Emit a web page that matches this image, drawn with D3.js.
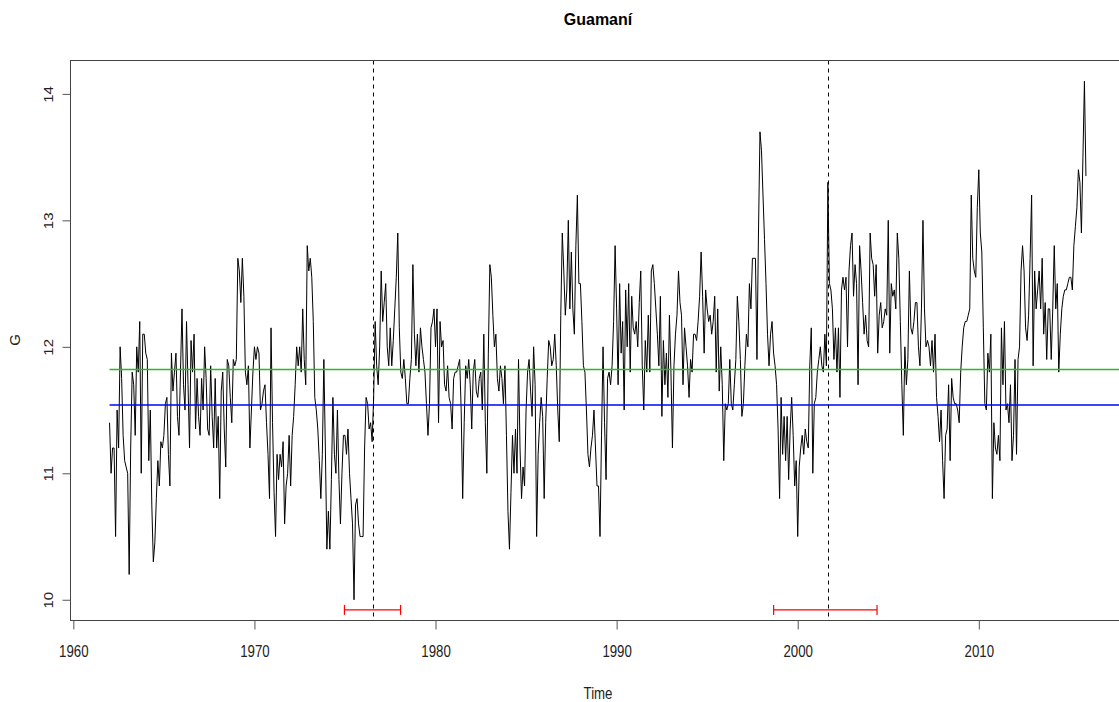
<!DOCTYPE html>
<html>
<head>
    <meta charset="utf-8">
    <style>
        body { margin: 0; background: #fff; }
        text { font-family: "Liberation Sans", Arial, sans-serif; fill: #222; }
    </style>
</head>
<body>
    <div id="graph"></div>
    <script src="https://cdn.jsdelivr.net/npm/d3@7"></script>

    <script>
        // Serie mensual, empieza en enero de 1962 (una fila por año)
        const START_YEAR = 1962;
        const G = [
            11.4, 11.0, 11.2, 11.2, 10.5, 11.5, 11.2, 12.0, 11.75, 11.3, 11.1, 11.05,
            11.0, 10.2, 11.2, 11.8, 11.7, 11.3, 12.0, 11.8, 12.2, 11.0, 12.1, 12.1,
            11.95, 11.9, 11.1, 11.5, 10.75, 10.3, 10.45, 10.8, 11.1, 10.9, 11.25, 11.2,
            11.3, 11.55, 11.6, 11.15, 10.9, 11.95, 11.65, 11.8, 11.95, 11.45, 11.3, 11.8,
            12.3, 11.7, 11.5, 12.2, 11.7, 11.2, 12.05, 11.8, 12.1, 11.35, 11.75, 11.45,
            11.3, 11.75, 11.5, 12.0, 11.75, 11.35, 11.3, 11.85, 11.45, 11.2, 11.75, 11.2,
            11.45, 10.8, 11.65, 11.8, 11.35, 11.05, 11.9, 11.85, 11.6, 11.4, 11.9, 11.85,
            11.9, 12.7, 12.6, 12.35, 12.7, 12.4, 11.8, 11.7, 11.85, 11.2, 11.5, 11.8,
            12.0, 11.9, 12.0, 11.95, 11.5, 11.55, 11.65, 11.7, 11.4, 11.15, 10.8, 12.15,
            11.4, 10.85, 10.5, 11.15, 10.95, 11.15, 11.05, 11.25, 10.6, 10.9, 11.0, 11.3,
            10.9, 11.3, 11.45, 11.7, 12.0, 11.85, 12.0, 11.8, 12.3, 11.9, 11.7, 12.8,
            12.6, 12.7, 12.55, 12.2, 11.6, 11.5, 11.35, 11.1, 10.8, 11.15, 11.9, 11.2,
            10.4, 10.7, 10.4, 10.95, 11.6, 11.15, 11.0, 11.5, 10.95, 10.6, 11.0, 11.3,
            11.3, 11.15, 11.35, 11.0, 10.8, 10.6, 10.0, 10.75, 10.8, 10.6, 10.5, 10.5,
            10.5, 11.2, 11.6, 11.55, 11.35, 11.4, 11.25, 11.6, 12.2, 11.85, 11.7, 12.0,
            12.6, 12.2, 12.35, 12.5, 12.0, 11.85, 12.15, 11.85, 12.05, 12.3, 12.55, 12.9,
            12.15, 11.8, 11.75, 11.9, 11.75, 11.55, 11.55, 11.75, 11.9, 12.65, 12.1, 11.85,
            12.1, 11.8, 12.15, 12.0, 11.9, 11.8, 11.55, 11.3, 11.55, 12.15, 12.2, 12.3,
            12.0, 12.3, 11.4, 12.2, 12.0, 12.05, 11.7, 11.65, 11.85, 11.6, 11.55, 11.35,
            11.75, 11.8, 11.8, 11.85, 11.9, 11.5, 10.8, 11.4, 11.85, 11.75, 11.9, 11.7,
            11.35, 11.8, 11.9, 11.65, 11.6, 11.75, 11.8, 11.5, 12.1, 11.4, 11.0, 11.95,
            12.65, 12.55, 12.25, 12.0, 12.1, 11.75, 11.65, 11.85, 11.75, 11.55, 11.85, 11.3,
            10.7, 10.4, 10.85, 11.3, 11.0, 11.35, 11.0, 11.9, 11.2, 10.8, 11.05, 10.9,
            11.5, 11.8, 11.9, 11.65, 11.45, 12.0, 11.7, 10.5, 11.15, 11.4, 11.6, 11.45,
            10.8, 11.4, 11.75, 12.05, 12.0, 11.85, 11.9, 12.1, 11.85, 11.5, 11.25, 12.25,
            12.9, 12.6, 12.25, 12.45, 13.0, 12.3, 12.75, 12.3, 12.1, 12.8, 13.2, 12.5,
            12.5, 12.2, 11.85, 11.8, 11.5, 11.15, 11.05, 11.2, 11.3, 11.5, 11.2, 10.9,
            10.9, 10.5, 11.3, 12.0, 11.4, 10.95, 11.75, 11.8, 11.7, 11.85, 12.2, 12.8,
            12.3, 11.7, 12.5, 11.95, 12.2, 11.5, 12.45, 12.0, 12.5, 11.8, 12.4, 12.15,
            12.1, 12.2, 12.0, 12.35, 12.6, 11.85, 11.5, 12.05, 11.8, 12.25, 11.8, 12.6,
            12.65, 12.5, 12.3, 12.1, 11.85, 12.4, 11.45, 12.05, 11.7, 11.95, 11.6, 12.25,
            11.8, 11.2, 11.85, 12.1, 12.25, 12.6, 12.35, 12.25, 11.7, 12.15, 12.0, 11.85,
            11.6, 11.9, 11.8, 12.1, 12.1, 12.05, 12.2, 12.4, 12.75, 12.4, 11.95, 12.45,
            12.3, 12.2, 12.25, 12.1, 12.2, 12.4, 11.8, 12.3, 11.65, 12.0, 11.7, 11.1,
            11.55, 11.5, 11.55, 11.9, 11.55, 11.5, 11.7, 11.9, 12.4, 12.2, 11.9, 11.45,
            11.55, 11.85, 12.1, 12.0, 12.5, 12.3, 12.7, 12.7, 12.7, 11.9, 12.9, 13.7,
            13.55, 13.2, 12.85, 12.5, 12.1, 11.85, 12.1, 12.2, 11.95, 11.85, 11.7, 11.35,
            10.8, 11.6, 11.15, 11.45, 11.1, 11.45, 10.95, 11.35, 11.6, 11.3, 10.9, 11.1,
            10.5, 11.05, 11.2, 11.3, 11.15, 11.35, 11.25, 11.2, 11.85, 12.15, 11.0, 11.55,
            11.6, 11.8, 11.9, 12.0, 11.85, 11.8, 12.1, 11.85, 13.3, 12.5, 12.45, 12.3,
            11.9, 12.15, 11.8, 12.15, 11.6, 12.45, 12.55, 12.45, 12.55, 12.0, 12.6, 12.8,
            12.9, 12.4, 12.65, 12.5, 11.7, 12.8, 12.6, 12.35, 12.1, 12.25, 12.05, 12.0,
            12.9, 12.7, 12.65, 12.4, 12.65, 11.95, 12.25, 12.35, 12.15, 12.2, 12.3, 12.25,
            13.0, 11.95, 12.5, 12.4, 12.45, 12.3, 12.9, 12.7, 12.2, 11.7, 11.3, 12.0,
            11.7, 11.9, 12.6, 12.15, 12.1, 12.2, 12.35, 12.35, 12.0, 11.85, 12.3, 13.0,
            12.3, 12.0, 12.05, 12.0, 11.85, 12.05, 11.8, 12.1, 11.6, 11.45, 11.25, 11.5,
            11.1, 10.8, 11.3, 11.35, 11.7, 11.1, 11.75, 11.6, 11.55, 11.55, 11.5, 11.4,
            11.8, 12.0, 12.15, 12.2, 12.2, 12.25, 12.3, 13.2, 12.7, 12.6, 12.55, 13.1,
            13.4, 12.9, 12.75, 12.15, 11.55, 11.5, 11.95, 11.8, 12.1, 10.8, 11.4, 11.2,
            11.15, 11.3, 11.1, 12.15, 11.7, 12.2, 11.5, 11.55, 11.4, 11.7, 11.1, 11.3,
            11.9, 11.15, 11.9, 12.0, 12.6, 12.8, 12.6, 12.15, 12.05, 12.25, 12.7, 13.2,
            11.85, 12.6, 12.3, 12.45, 12.6, 12.3, 12.7, 12.1, 12.35, 11.9, 12.3, 12.3,
            11.9, 12.3, 12.8, 12.3, 12.5, 11.8, 12.1, 12.3, 12.4, 12.45, 12.45, 12.5,
            12.55, 12.55, 12.45, 12.8, 12.95, 13.1, 13.4, 13.3, 12.9, 13.5, 14.1, 13.35
        ];

        // Niveles horizontales (verde y azul)
        const LEVELS = [11.82, 11.54];
        // Fechas de quiebre e intervalos de confianza
        const BREAKS = [1976.57, 2001.69];
        const BREAK_CI = [[1974.97, 1978.07], [1998.67, 2004.38]];
        const CI_LEVEL = 9.92;

        const X_TICKS = [1960, 1970, 1980, 1990, 2000, 2010];
        const Y_TICKS = [10, 11, 12, 13, 14];

        const WIDTH = 1119;
        const HEIGHT = 702;
        const LEFT = 70.5, RIGHT = 1125, TOP = 60.5, BOTTOM = 620.5;
        const LEVEL_COLORS = ["#22bb22", "#0000ff"];

        const data = G.map((v, i) => ({ t: START_YEAR + i / 12, v: v }));
        const tEnd = data[data.length - 1].t;

        // Escalas con la extensión del 4% que usa R
        const tPad = (tEnd - START_YEAR) * 0.04;
        const xScale = d3.scaleLinear()
            .domain([START_YEAR - tPad, tEnd + tPad])
            .range([LEFT, RIGHT]);

        const vMin = d3.min(G), vMax = d3.max(G);
        const vPad = (vMax - vMin) * 0.04;
        const yScale = d3.scaleLinear()
            .domain([vMin - vPad, vMax + vPad])
            .range([BOTTOM, TOP]);

        const svg = d3.select("#graph")
            .append("svg")
            .attr("width", WIDTH)
            .attr("height", HEIGHT);

        // Línea de la serie
        const line = d3.line()
            .x(d => xScale(d.t))
            .y(d => yScale(d.v));

        svg.append("path")
            .datum(data)
            .attr("d", line)
            .attr("fill", "none")
            .attr("stroke", "#000")
            .attr("stroke-width", 1);

        // Niveles horizontales
        svg.selectAll(".level")
            .data(LEVELS)
            .enter()
            .append("line")
            .attr("x1", xScale(START_YEAR))
            .attr("x2", xScale.range()[1])
            .attr("y1", d => yScale(d))
            .attr("y2", d => yScale(d))
            .attr("stroke", (d, i) => LEVEL_COLORS[i])
            .attr("stroke-width", 1.5);

        // Quiebres (líneas discontinuas)
        svg.selectAll(".brk")
            .data(BREAKS)
            .enter()
            .append("line")
            .attr("x1", d => Math.round(xScale(d)) + 0.5)
            .attr("x2", d => Math.round(xScale(d)) + 0.5)
            .attr("y1", TOP)
            .attr("y2", BOTTOM)
            .attr("stroke", "#000")
            .attr("stroke-dasharray", "4,4")
            .attr("stroke-width", 1);

        // Intervalos de confianza en rojo
        const ci = svg.selectAll(".ci")
            .data(BREAK_CI)
            .enter()
            .append("g")
            .attr("stroke", "#ff0000")
            .attr("stroke-width", 1.2);

        ci.append("line")
            .attr("x1", d => xScale(d[0]))
            .attr("x2", d => xScale(d[1]))
            .attr("y1", yScale(CI_LEVEL))
            .attr("y2", yScale(CI_LEVEL));

        [0, 1].forEach(k => {
            ci.append("line")
                .attr("x1", d => xScale(d[k]))
                .attr("x2", d => xScale(d[k]))
                .attr("y1", yScale(CI_LEVEL) - 5)
                .attr("y2", yScale(CI_LEVEL) + 5);
        });

        // Marco
        svg.append("rect")
            .attr("x", LEFT)
            .attr("y", TOP)
            .attr("width", RIGHT - LEFT)
            .attr("height", BOTTOM - TOP)
            .attr("fill", "none")
            .attr("stroke", "#444")
            .attr("stroke-width", 1);

        // Eje x
        const xAxis = svg.append("g")
            .attr("transform", `translate(0, ${BOTTOM})`)
            .call(d3.axisBottom(xScale).tickValues(X_TICKS).tickSize(9).tickFormat(d3.format("d")));
        xAxis.select(".domain").remove();
        xAxis.selectAll("line").attr("stroke", "#555");
        xAxis.selectAll("text")
            .attr("y", 24)
            .style("font-size", "17px")
            .attr("fill", "#222")
            .attr("transform", "scale(0.78,1)");

        // Eje y
        const yAxis = svg.append("g")
            .attr("transform", `translate(${LEFT}, 0)`)
            .call(d3.axisLeft(yScale).tickValues(Y_TICKS).tickSize(8).tickFormat(d3.format("d")));
        yAxis.select(".domain").remove();
        yAxis.selectAll("line").attr("stroke", "#555");
        yAxis.selectAll("text")
            .attr("x", 0)
            .attr("y", -21)
            .attr("dy", 0)
            .attr("text-anchor", "middle")
            .style("font-size", "15px")
            .attr("fill", "#222")
            .attr("transform", "rotate(-90) scale(1,0.84)");

        // Títulos
        svg.append("text")
            .attr("x", 598)
            .attr("y", 25)
            .attr("text-anchor", "middle")
            .style("font-size", "16px")
            .style("font-weight", "bold")
            .style("fill", "#000")
            .text("Guamaní");

        svg.append("text")
            .attr("transform", "translate(598, 699) scale(0.78,1)")
            .attr("text-anchor", "middle")
            .style("font-size", "17px")
            .text("Time");

        svg.append("text")
            .attr("transform", "translate(20, 340) rotate(-90)")
            .attr("text-anchor", "middle")
            .style("font-size", "15px")
            .text("G");
    </script>
</body>
</html>
